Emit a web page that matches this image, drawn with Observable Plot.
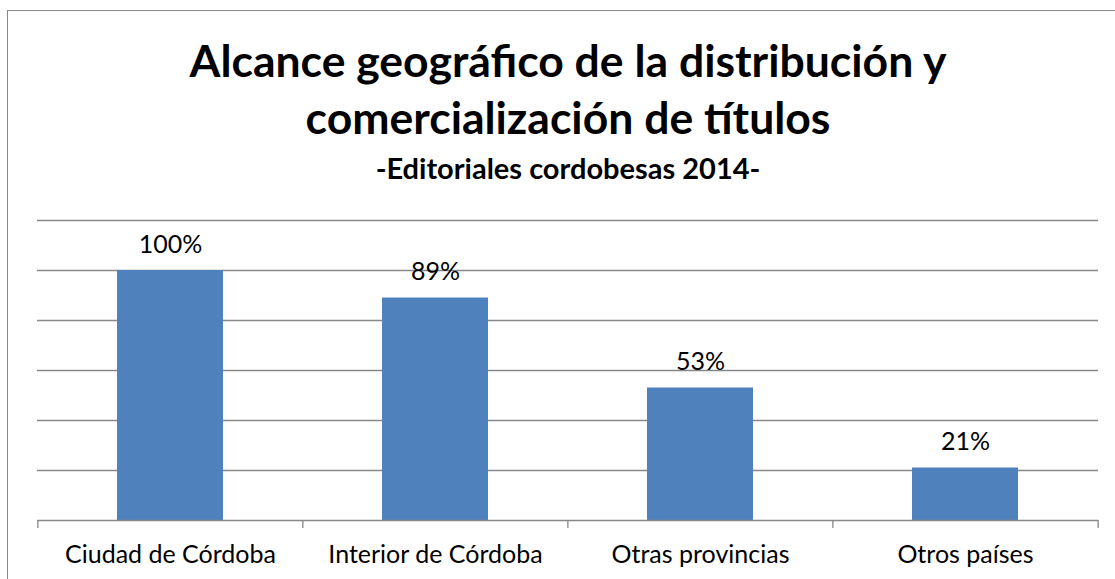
<!DOCTYPE html>
<html><head><meta charset="utf-8">
<script src="https://cdn.jsdelivr.net/npm/d3@7"></script>
<script src="https://cdn.jsdelivr.net/npm/@observablehq/plot@0.6"></script>
<style>
body{margin:0;background:#fff;}
#wrap{position:relative;width:1115px;height:579px;overflow:hidden;background:#fff;font-family:Lato,sans-serif;}
#frame{position:absolute;left:7px;top:10px;width:1200px;height:700px;border-left:1.5px solid #888;border-top:1.5px solid #888;}
#chart{position:absolute;left:0;top:0;}
.t{position:absolute;left:0;width:1136px;text-align:center;font-weight:700;color:#000;line-height:1;white-space:nowrap;}
</style></head><body>
<div id="wrap">
<div id="frame"></div>
<div id="chart"></div>
<div class="t" style="top:38px;font-size:44.5px">Alcance geográfico de la distribución y</div>
<div class="t" style="top:95px;font-size:44.5px">comercialización de títulos</div>
<div class="t" style="top:153px;font-size:29px">-Editoriales cordobesas 2014-</div>
</div>
<script>
const categories = ["Ciudad de Córdoba", "Interior de Córdoba", "Otras provincias", "Otros países"];
const values = [100, 89, 53, 21];
const gridTicks = [20, 40, 60, 80, 100, 120];

const data = categories.map((c, i) => ({category: c, value: values[i]}));
const W = 1115, H = 579, mL = 37, mR = 17, mT = 220, mB = 59;
const padIn = 0.6, padOut = 0.3;
const step = (W - mL - mR) / (categories.length - padIn + 2 * padOut);

const chart = Plot.plot({
  width: W, height: H,
  marginTop: mT, marginBottom: mB, marginLeft: mL, marginRight: mR,
  x: {domain: categories, paddingInner: padIn, paddingOuter: padOut, label: null},
  y: {domain: [0, 120], axis: null},
  style: {fontFamily: "Lato, sans-serif", fontSize: "25px", background: "transparent", color: "#000"},
  marks: [
    Plot.ruleY(gridTicks, {stroke: "#888", strokeWidth: 1.3}),
    Plot.barY(data, {x: "category", y: "value", fill: "#4F81BD"}),
    Plot.ruleY([0], {stroke: "#888", strokeWidth: 1.3}),
    Plot.ruleX(categories, {x: d => d, y1: 0, y2: -3.2, dx: -step / 2, stroke: "#888", strokeWidth: 1.3}),
    Plot.ruleX(categories.slice(-1), {x: d => d, y1: 0, y2: -3.2, dx: step / 2, stroke: "#888", strokeWidth: 1.3}),
    Plot.text(data, {x: "category", y: "value", text: d => d.value + "%", lineAnchor: "bottom", dy: -18, fill: "#000"}),
    Plot.axisX({tickSize: 0, tickPadding: 25, fill: "#000", label: null})
  ]
});
document.getElementById("chart").appendChild(chart);
</script>
</body></html>
